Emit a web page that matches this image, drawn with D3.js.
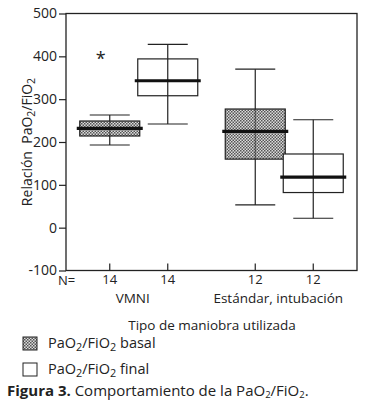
<!DOCTYPE html>
<html><head><meta charset="utf-8">
<script src="https://cdn.jsdelivr.net/npm/d3@7"></script>
<style>
html,body{margin:0;padding:0;background:#fff;}
svg{display:block;font-family:"Open Sans",sans-serif;}
</style></head>
<body><svg id="c" width="371" height="414"></svg>
<script>
const groups = ["VMNI", "Estándar, intubación"];
const seriesNames = ["basal", "final"];
const counts = [[14, 14], [12, 12]];
// [whiskerLow, q1, median, q3, whiskerHigh] per group, per series
const basalStats = [[193, 214, 232, 249, 263], [53, 160, 225, 277, 370]];
const finalStats = [[242, 308, 343, 394, 428], [22, 82, 118, 172, 252]];
const outliers = [{group: 0, series: 0, value: 400}];
const yTicks = [-100, 0, 100, 200, 300, 400, 500];

(function () {
const svg = d3.select("#c");
const pL = 66, pR = 357, pT = 13.5, pB = 270.5;

const defs = svg.append("defs");
const pat = defs.append("pattern").attr("id", "dots").attr("patternUnits", "userSpaceOnUse")
  .attr("width", 3).attr("height", 3);
pat.append("rect").attr("width", 3).attr("height", 3).attr("fill", "#dcdcdc");
pat.append("rect").attr("x", 0).attr("y", 0).attr("width", 1.5).attr("height", 1.5).attr("fill", "#555");
pat.append("rect").attr("x", 1.5).attr("y", 1.5).attr("width", 1.5).attr("height", 1.5).attr("fill", "#555");

const y = d3.scaleLinear().domain([-100, 500]).range([pB, pT]);
const x0 = d3.scaleBand().domain(groups).range([pL, pR]);
const x1 = d3.scaleBand().domain(seriesNames).range([-58, 58]);
const boxW = 60;

// frame
svg.append("rect").attr("x", pL).attr("y", pT).attr("width", pR - pL).attr("height", pB - pT)
  .attr("fill", "none").attr("stroke", "#222").attr("stroke-width", 1.3);

// y axis
const yAxis = d3.axisLeft(y).tickValues(yTicks).tickSize(7).tickPadding(2).tickFormat(d => d < 0 ? "-" + Math.abs(d) : d);
const ya = svg.append("g").attr("transform", `translate(${pL},0)`).call(yAxis);
ya.select(".domain").remove();
ya.selectAll("line").attr("stroke", "#222").attr("stroke-width", 1.2);
ya.selectAll("text").attr("font-size", 14).attr("fill", "#222").attr("font-family", "Open Sans");

const center = (gi, si) => x0(groups[gi]) + x0.bandwidth() / 2 + x1(seriesNames[si]) + x1.bandwidth() / 2;

// box plots
const all = [basalStats, finalStats];
all.forEach((stats, si) => {
  stats.forEach((s, gi) => {
    const cx = center(gi, si);
    const g = svg.append("g");
    g.append("line").attr("x1", cx).attr("x2", cx).attr("y1", y(s[0])).attr("y2", y(s[4]))
      .attr("stroke", "#222").attr("stroke-width", 1.2);
    [s[0], s[4]].forEach(v => g.append("line").attr("x1", cx - 20).attr("x2", cx + 20)
      .attr("y1", y(v)).attr("y2", y(v)).attr("stroke", "#222").attr("stroke-width", 1.2));
    g.append("rect").attr("x", cx - boxW / 2).attr("width", boxW).attr("y", y(s[3])).attr("height", y(s[1]) - y(s[3]))
      .attr("fill", si === 0 ? "url(#dots)" : "#fff").attr("stroke", "#222").attr("stroke-width", 1.2);
    g.append("line").attr("x1", cx).attr("x2", cx).attr("y1", y(s[3])).attr("y2", y(s[1]))
      .attr("stroke", "#222").attr("stroke-width", 1.2).attr("opacity", si === 0 ? 0.6 : 1);
    g.append("line").attr("x1", cx - boxW / 2 - 3).attr("x2", cx + boxW / 2 + 3).attr("y1", y(s[2])).attr("y2", y(s[2]))
      .attr("stroke", "#111").attr("stroke-width", 3.2);
  });
});

// outliers
outliers.forEach(o => {
  const cx = center(o.group, o.series);
  svg.append("text").attr("x", cx - 9).attr("y", y(o.value) + 9).attr("text-anchor", "middle")
    .attr("font-size", 18).attr("fill", "#222").text("*");
});

// x ticks + counts
svg.append("text").attr("x", 58).attr("y", 285).attr("font-size", 13).attr("fill", "#222").text("N=");
groups.forEach((gname, gi) => {
  seriesNames.forEach((sn, si) => {
    const cx = center(gi, si);
    svg.append("line").attr("x1", cx).attr("x2", cx).attr("y1", pB).attr("y2", pB - 7)
      .attr("stroke", "#222").attr("stroke-width", 1.2);
    svg.append("text").attr("x", cx).attr("y", 284).attr("text-anchor", "middle")
      .attr("font-size", 13).attr("fill", "#222").text(counts[gi][si]);
  });
  svg.append("text").attr("x", x0(gname) + x0.bandwidth() / 2 - 6).attr("y", 303).attr("text-anchor", "middle")
    .attr("font-size", 13.5).attr("fill", "#222").text(gname);
});

function pao2(sel, fs, suffix) {
  const d = fs * 0.22;
  sel.append("tspan").text("PaO");
  sel.append("tspan").attr("font-size", fs * 0.75).attr("dy", d).text("2");
  sel.append("tspan").attr("dy", -d).text("/FiO");
  sel.append("tspan").attr("font-size", fs * 0.75).attr("dy", d).text("2");
  if (suffix) sel.append("tspan").attr("dy", -d).text(suffix);
}

// y label
const yl = svg.append("text").attr("transform", "translate(32,142) rotate(-90)").attr("text-anchor", "middle")
  .attr("font-size", 14).attr("fill", "#222");
yl.append("tspan").text("Relación\u00a0\u00a0");
pao2(yl, 14, "");

// x title
svg.append("text").attr("x", 212).attr("y", 330).attr("text-anchor", "middle").attr("font-size", 13.5)
  .attr("fill", "#222").text("Tipo de maniobra utilizada");

// legend
const legend = [{label: "basal", fill: "url(#dots)"}, {label: "final", fill: "#fff"}];
legend.forEach((l, i) => {
  const yy = 337 + i * 26;
  svg.append("rect").attr("x", 23).attr("y", yy).attr("width", 14).attr("height", 13)
    .attr("fill", l.fill).attr("stroke", "#222").attr("stroke-width", 1);
  const t = svg.append("text").attr("x", 48).attr("y", yy + 11).attr("font-size", 14.5).attr("fill", "#222");
  pao2(t, 14.5, "\u00a0" + l.label);
});

// caption
const cap = svg.append("text").attr("x", 7).attr("y", 396).attr("font-size", 15).attr("fill", "#222");
cap.append("tspan").attr("font-weight", "bold").text("Figura 3.");
cap.append("tspan").text("\u00a0Comportamiento de la PaO");
cap.append("tspan").attr("font-size", 9.5).attr("dy", 2).text("2");
cap.append("tspan").attr("dy", -2).text("/FiO");
cap.append("tspan").attr("font-size", 9.5).attr("dy", 2).text("2");
cap.append("tspan").attr("dy", -2).text(".");
})();
</script></body></html>
